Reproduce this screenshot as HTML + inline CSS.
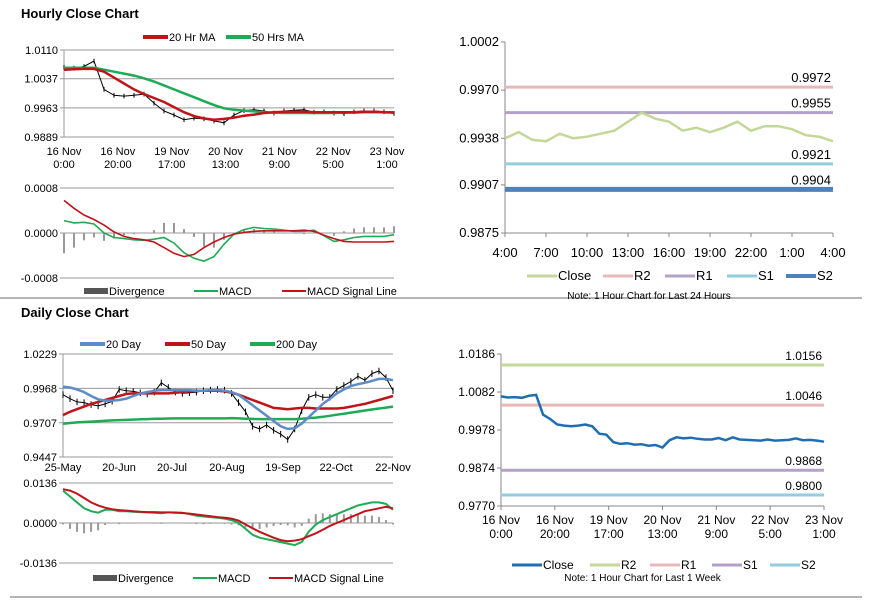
<!DOCTYPE html>
<html><head><meta charset="utf-8">
<style>
body{margin:0;background:#fff;width:873px;height:601px;overflow:hidden;font-family:"Liberation Sans",Arial,sans-serif}
svg{position:absolute;left:0;top:0}
</style></head>
<body>
<svg id="c" width="873" height="601" xmlns="http://www.w3.org/2000/svg" font-family="Liberation Sans, Arial, sans-serif">
<text x="21" y="18" font-size="13" font-weight="bold" fill="#000">Hourly Close Chart</text>
<text x="21" y="317" font-size="13" font-weight="bold" fill="#000">Daily Close Chart</text>
<line x1="0" y1="298" x2="862" y2="298" stroke="#888" stroke-width="1.2"/>
<line x1="10" y1="597" x2="862" y2="597" stroke="#888" stroke-width="1.2"/>
</svg>
<script>
// ---- Hourly price panel data ----
const hTicks=["16 Nov|0:00","16 Nov|20:00","19 Nov|17:00","20 Nov|13:00","21 Nov|9:00","22 Nov|5:00","23 Nov|1:00"];
const hYTicks=[1.0110,1.0037,0.9963,0.9889];
const hClose=[1.0066,1.0064,1.0068,1.0082,1.0010,0.9995,0.9993,0.9995,0.9998,0.9975,0.9955,0.9945,0.9933,0.9937,0.9935,0.9930,0.9925,0.9945,0.9956,0.9958,0.9955,0.9950,0.9955,0.9957,0.9958,0.9952,0.9953,0.9950,0.9948,0.9953,0.9955,0.9955,0.9953,0.9949];
const hMA20=[1.0060,1.0061,1.0062,1.0062,1.0055,1.0040,1.0025,1.0010,0.9998,0.9988,0.9978,0.9965,0.9952,0.9942,0.9936,0.9933,0.9935,0.9938,0.9943,0.9946,0.9950,0.9952,0.9953,0.9953,0.9953,0.9952,0.9952,0.9952,0.9952,0.9952,0.9953,0.9953,0.9952,0.9951];
const hMA50=[1.0065,1.0065,1.0065,1.0065,1.0060,1.0055,1.0050,1.0045,1.0038,1.0030,1.0020,1.0010,1.0000,0.9990,0.9980,0.9970,0.9962,0.9958,0.9956,0.9954,0.9952,0.9951,0.9950,0.9950,0.9950,0.9950,0.9950,0.9950,0.9951,0.9951,0.9952,0.9952,0.9952,0.9952];
const hMacdTicks=[0.0008,0.0000,-0.0008];
const hMacd=[2.2,1.8,1.9,1.6,0.0,-0.8,-1.0,-1.2,-1.3,-1.1,-0.8,-1.8,-3.5,-4.5,-5.0,-4.2,-2.0,-0.2,0.6,1.0,0.8,0.7,0.5,0.3,0.3,0.5,-0.5,-1.5,-1.2,-0.8,-0.6,-0.6,-0.6,-0.3];
const hSignal=[5.8,4.4,3.2,2.4,1.4,0.2,-0.6,-1.0,-1.2,-1.6,-2.6,-3.6,-4.2,-3.8,-2.6,-1.6,-0.8,-0.2,0.1,0.3,0.4,0.4,0.4,0.4,0.5,0.3,-0.4,-1.0,-1.5,-1.6,-1.6,-1.6,-1.6,-1.5];
// ---- Daily price panel data ----
const dTicks=["25-May","20-Jun","20-Jul","20-Aug","19-Sep","22-Oct","22-Nov"];
const dYTicks=[1.0229,0.9968,0.9707,0.9447];
const dClose=[0.9920,0.9890,0.9865,0.9860,0.9845,0.9835,0.9850,0.9870,0.9960,0.9950,0.9945,0.9935,0.9925,0.9940,1.0010,0.9975,0.9940,0.9930,0.9935,0.9940,0.9950,0.9955,0.9960,0.9955,0.9930,0.9860,0.9790,0.9680,0.9660,0.9690,0.9650,0.9620,0.9580,0.9660,0.9800,0.9900,0.9920,0.9900,0.9900,0.9960,0.9990,1.0020,1.0060,1.0030,1.0080,1.0100,1.0050,0.9950];
const dMA20=[0.9980,0.9975,0.9960,0.9940,0.9910,0.9885,0.9875,0.9875,0.9880,0.9890,0.9910,0.9930,0.9940,0.9950,0.9955,0.9955,0.9955,0.9955,0.9955,0.9950,0.9950,0.9955,0.9955,0.9950,0.9940,0.9920,0.9880,0.9840,0.9800,0.9760,0.9720,0.9680,0.9660,0.9665,0.9700,0.9750,0.9800,0.9850,0.9890,0.9930,0.9960,0.9985,1.0000,1.0010,1.0025,1.0040,1.0040,1.0030];
const dMA50=[0.9765,0.9790,0.9810,0.9830,0.9850,0.9865,0.9880,0.9895,0.9910,0.9925,0.9930,0.9930,0.9930,0.9930,0.9930,0.9930,0.9935,0.9940,0.9945,0.9950,0.9950,0.9950,0.9950,0.9945,0.9935,0.9920,0.9900,0.9880,0.9860,0.9840,0.9820,0.9815,0.9810,0.9815,0.9820,0.9820,0.9815,0.9815,0.9815,0.9815,0.9820,0.9830,0.9840,0.9850,0.9865,0.9880,0.9895,0.9910];
const dMA200=[0.9700,0.9705,0.9710,0.9713,0.9716,0.9719,0.9722,0.9725,0.9727,0.9729,0.9731,0.9733,0.9735,0.9737,0.9738,0.9739,0.9740,0.9740,0.9740,0.9740,0.9740,0.9740,0.9740,0.9740,0.9742,0.9740,0.9738,0.9736,0.9735,0.9735,0.9735,0.9735,0.9735,0.9735,0.9738,0.9742,0.9746,0.9752,0.9760,0.9768,0.9776,0.9784,0.9792,0.9800,0.9808,0.9815,0.9822,0.9830];
const dMacdTicks=[0.0136,0.0000,-0.0136];
const dMacd=[11,9,7,5,4,3.5,4.5,4.5,4,4,3.8,3.7,3.6,3.5,3.3,3.6,3.6,3.5,3.0,2.5,2.2,2.0,1.8,1.5,1.0,0,-2,-4,-5,-5.5,-6,-6.5,-7,-7.5,-6.5,-3,-0.5,1,2,3,4,5,6,6.5,7,7,6.5,4.5];
const dSignal=[11.5,11,10,8.5,7,6,5.2,4.7,4.4,4.2,4,3.8,3.7,3.7,3.6,3.6,3.5,3.4,3.2,2.9,2.6,2.3,2.0,1.8,1.5,0.8,-0.5,-1.8,-3,-4,-5,-5.8,-6.2,-6,-5.5,-4.5,-3.5,-2.3,-1,0,1,2,3,4,4.5,5,5.5,5];
// ---- 24h levels ----
const tTicks=["4:00","7:00","10:00","13:00","16:00","19:00","22:00","1:00","4:00"];
const tYTicks=[1.0002,0.9970,0.9938,0.9907,0.9875];
const tClose=[0.9938,0.9942,0.9937,0.9936,0.9941,0.9938,0.9939,0.9941,0.9943,0.9949,0.9955,0.9951,0.9949,0.9943,0.9945,0.9942,0.9945,0.9949,0.9943,0.9946,0.9946,0.9944,0.9940,0.9939,0.9936];
const tLevelNames=["R2","R1","S1","S2"];
const tLevels=[0.9972,0.9955,0.9921,0.9904];
// ---- week levels ----
const wTicks=hTicks;
const wYTicks=[1.0186,1.0082,0.9978,0.9874,0.9770];
const wClose=[1.0070,1.0067,1.0068,1.0066,1.0072,1.0074,1.0020,1.0008,0.9993,0.9990,0.9988,0.9990,0.9993,0.9988,0.9968,0.9965,0.9945,0.9940,0.9942,0.9938,0.9939,0.9935,0.9937,0.9930,0.9950,0.9958,0.9955,0.9957,0.9954,0.9952,0.9952,0.9956,0.9950,0.9958,0.9952,0.9951,0.9950,0.9949,0.9952,0.9949,0.9950,0.9951,0.9955,0.9950,0.9951,0.9949,0.9946];
const wLevelNames=["R2","R1","S1","S2"];
const wLevels=[1.0156,1.0046,0.9868,0.9800];

const svg=document.getElementById('c');
const NS='http://www.w3.org/2000/svg';
function mk(tag,attrs,parent){const e=document.createElementNS(NS,tag);for(const k in attrs)e.setAttribute(k,attrs[k]);(parent||svg).appendChild(e);return e;}
function txt(x,y,s,size,anchor,parent){const t=mk('text',{x:x,y:y,'font-size':size,'text-anchor':anchor,fill:'#000'},parent);t.textContent=s;return t;}
function lin(v0,v1,p0,p1){return v=>p0+(v-v0)/(v1-v0)*(p1-p0);}
function path(arr,xf,yf){return arr.map((v,i)=>(i?'L':'M')+xf(i).toFixed(1)+' '+yf(v).toFixed(1)).join(' ');}
function group(name){const g=mk('g',{});return g;}

function grid(g,ticks,yf,x0,x1,fmt,dec){ticks.forEach(t=>{mk('line',{x1:x0-4,y1:yf(t),x2:x1,y2:yf(t),stroke:'#999','stroke-width':1},g);const l=txt(x0-6,yf(t)+4,t.toFixed(dec),11,'end',g);});}
function legendLine(g,x,y,w,color,sw,label,name,fs){mk('line',{x1:x,y1:y,x2:x+w,y2:y,stroke:color,'stroke-width':sw},g);const t=txt(x+w+1,y+4,label,fs||11,'start',g);}

// ===== Hourly price =====
(function(){
const g=group('hourly-price-chart');
const X0=64,X1=394,yf=lin(1.0110,0.9889,50,137);
const xf=i=>X0+i*(X1-X0)/(hClose.length-1);
grid(g,hYTicks,yf,X0,X1,null,4);
mk('line',{x1:X0,y1:50,x2:X0,y2:137,stroke:'#999'},g);
hTicks.forEach((t,i)=>{const x=X0+i*(387-X0)/6;const p=t.split('|');const a=txt(x,155,p[0],11,'middle',g);txt(x,168,p[1],11,'middle',g);});
const bars=group('hourly-price-bars');g.appendChild(bars);
hClose.forEach((v,i)=>{const b=mk('line',{x1:xf(i),y1:yf(v+0.0006),x2:xf(i),y2:yf(v-0.0006),stroke:'#000','stroke-width':1},bars);});
const pc=mk('path',{d:path(hClose,xf,yf),fill:'none',stroke:'#000','stroke-width':1},g);
const m50=mk('path',{d:path(hMA50,xf,yf),fill:'none',stroke:'#1faa55','stroke-width':2.5},g);
const m20=mk('path',{d:path(hMA20,xf,yf),fill:'none',stroke:'#c0141b','stroke-width':2.5},g);
legendLine(g,143,37,25,'#c0141b',4,'20 Hr MA','legend-20-hr-ma');
legendLine(g,226,37,25,'#1faa55',4,'50 Hrs MA','legend-50-hrs-ma');
})();
// ===== Hourly MACD =====
(function(){
const g=group('hourly-macd-chart');
const X0=64,X1=394,yf=v=>233-v/8*45;
const xf=i=>X0+i*(X1-X0)/(hMacd.length-1);
hMacdTicks.forEach(t=>{const y=233-t/0.0008*45;mk('line',{x1:X0-4,y1:y,x2:X1,y2:y,stroke:'#999'},g);const l=txt(X0-6,y+4,t.toFixed(4),11,'end',g);});
hMacd.forEach((v,i)=>{const d=v-hSignal[i];const b=mk('rect',{x:xf(i)-1,y:Math.min(yf(d),233),width:2,height:Math.abs(yf(d)-233),fill:'#999'},g);});
const m=mk('path',{d:path(hMacd,xf,yf),fill:'none',stroke:'#1faa55','stroke-width':1.6},g);
const s=mk('path',{d:path(hSignal,xf,yf),fill:'none',stroke:'#c0141b','stroke-width':1.6},g);
mk('rect',{x:84,y:288,width:24,height:6,fill:'#555'},g);const dt=txt(109,295,'Divergence',11,'start',g);
legendLine(g,194,291,24,'#1faa55',2,'MACD','legend-macd');
legendLine(g,282,291,24,'#c0141b',2,'MACD Signal Line','legend-macd-signal');
})();
// ===== Daily price =====
(function(){
const g=group('daily-price-chart');
const X0=63,X1=393,yf=lin(1.0229,0.9447,354,457);
const xf=i=>X0+i*(X1-X0)/(dClose.length-1);
grid(g,dYTicks,yf,X0,X1,null,4);
mk('line',{x1:X0,y1:354,x2:X0,y2:457,stroke:'#999'},g);
const dx=[63,119,172,227,283,336,393];
dTicks.forEach((t,i)=>{const a=txt(dx[i],471,t,11,'middle',g);});
dClose.forEach((v,i)=>{const b=mk('line',{x1:xf(i),y1:yf(v+0.0025),x2:xf(i),y2:yf(v-0.0025),stroke:'#000','stroke-width':1},g);});
const pc=mk('path',{d:path(dClose,xf,yf),fill:'none',stroke:'#000','stroke-width':1},g);
const a=mk('path',{d:path(dMA200,xf,yf),fill:'none',stroke:'#1faa55','stroke-width':2.5},g);
const b=mk('path',{d:path(dMA50,xf,yf),fill:'none',stroke:'#c0141b','stroke-width':2.5},g);
const c=mk('path',{d:path(dMA20,xf,yf),fill:'none',stroke:'#5b8cc8','stroke-width':2.5},g);
legendLine(g,80,344,25,'#5b8cc8',4,'20 Day','legend-20-day');
legendLine(g,165,344,25,'#c0141b',4,'50 Day','legend-50-day');
legendLine(g,250,344,25,'#1faa55',4,'200 Day','legend-200-day');
})();
// ===== Daily MACD =====
(function(){
const g=group('daily-macd-chart');
const X0=63,X1=393,yf=v=>523-v/13.6*40;
const xf=i=>X0+i*(X1-X0)/(dMacd.length-1);
dMacdTicks.forEach(t=>{const y=523-t/0.0136*40;mk('line',{x1:X0-4,y1:y,x2:X1,y2:y,stroke:'#999'},g);const l=txt(X0-6,y+4,t.toFixed(4),11,'end',g);});
dMacd.forEach((v,i)=>{const d=v-dSignal[i];const b=mk('rect',{x:xf(i)-1,y:Math.min(yf(d),523),width:2,height:Math.abs(yf(d)-523),fill:'#999'},g);});
const m=mk('path',{d:path(dMacd,xf,yf),fill:'none',stroke:'#1faa55','stroke-width':2},g);
const s=mk('path',{d:path(dSignal,xf,yf),fill:'none',stroke:'#c0141b','stroke-width':2},g);
mk('rect',{x:93,y:575,width:24,height:6,fill:'#555'},g);const dt=txt(118,582,'Divergence',11,'start',g);
legendLine(g,193,578,24,'#1faa55',2,'MACD','legend-macd');
legendLine(g,269,578,24,'#c0141b',2,'MACD Signal Line','legend-macd-signal');
})();
// ===== Level panels =====
function levelPanel(name,X0,X1,Y0,Y1,yT,xT,xLabelY,two,close,closeColor,closeW,lvNames,lvVals,lvColors,lvW,legY,legX,noteY,note,fsize){
const g=group(name);
const yf=lin(yT[0],yT[yT.length-1],Y0,Y1);
const xf=i=>X0+i*(X1-X0)/(close.length-1);
mk('line',{x1:X0,y1:Y0,x2:X0,y2:Y1,stroke:'#888'},g);
mk('line',{x1:X0,y1:Y1,x2:X1,y2:Y1,stroke:'#888'},g);
yT.forEach(t=>{mk('line',{x1:X0-4,y1:yf(t),x2:X0,y2:yf(t),stroke:'#888'},g);const l=txt(X0-6,yf(t)+4,t.toFixed(4),fsize,'end',g);});
xT.forEach((t,i)=>{const x=X0+i*(X1-X0)/(xT.length-1);mk('line',{x1:x,y1:Y1,x2:x,y2:Y1+4,stroke:'#888'},g);const p=t.split('|');const a=txt(x,xLabelY,p[0],fsize,'middle',g);if(p[1])txt(x,xLabelY+14,p[1],fsize,'middle',g);});
lvVals.forEach((v,k)=>{const l=mk('line',{x1:X0,y1:yf(v),x2:X1,y2:yf(v),stroke:lvColors[k],'stroke-width':lvW[k]},g);const t=txt(X1-2,yf(v)-5,v.toFixed(4),fsize,'end',g);});
const c=mk('path',{d:path(close,xf,yf),fill:'none',stroke:closeColor,'stroke-width':closeW},g);
legendLine(g,legX[0],legY,30,closeColor,3,'Close','legend-close',fsize);
lvNames.forEach((n,k)=>legendLine(g,legX[k+1],legY,30,lvColors[k],k==3&&lvW[3]>4?4:3,n,'legend-'+n.toLowerCase(),fsize));
const nt=txt((X0+X1)/2-20,noteY,note,10,'middle',g);
}
levelPanel('24h-levels-chart',505,833,42,233,tYTicks,tTicks,257,false,tClose,'#c4d79b',2.5,tLevelNames,tLevels,['#e6b9b8','#b3a2c7','#93cddd','#4f81bd'],[3,3,3,5],276,[527,603,665,727,786],299,'Note: 1 Hour Chart for Last 24 Hours',13);
levelPanel('week-levels-chart',501,824,354,506,wYTicks,wTicks,524,true,wClose,'#1f6eb4',2.5,wLevelNames,wLevels,['#c4d79b','#e6b9b8','#b3a2c7','#93cddd'],[3,3,3,3],565,[512,590,650,712,770],581,'Note: 1 Hour Chart for Last 1 Week',12);
</script>
</body></html>
